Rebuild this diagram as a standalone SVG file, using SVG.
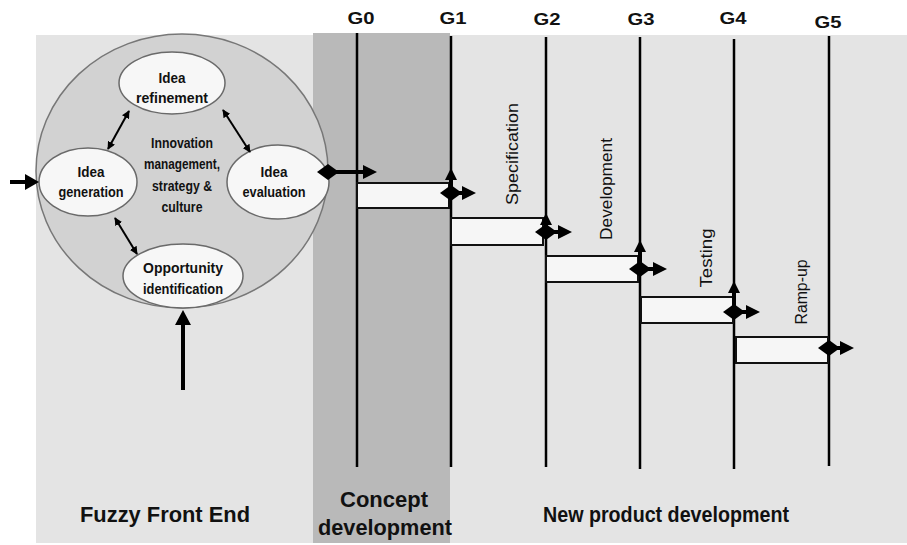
<svg xmlns="http://www.w3.org/2000/svg" width="907" height="545" viewBox="0 0 907 545">
  <style>
    .lbl { font-family: "Liberation Sans", Arial, sans-serif; fill: #111; }
    .b { font-weight: bold; }
    .gate { stroke: #000; stroke-width: 2.5; }
    .bar { fill: #f6f6f6; stroke: #111; stroke-width: 2; }
    .oval { fill: #f7f7f7; stroke: #6a6a6a; stroke-width: 1.5; }
    .thin { stroke: #000; stroke-width: 2; fill: none; marker-start: url(#hs); marker-end: url(#he); }
    .thick { stroke: #000; stroke-width: 4; fill: none; }
    .head { fill: #000; }
  </style>
  <defs>
    <marker id="he" viewBox="0 0 10 10" refX="9" refY="5" markerWidth="4" markerHeight="4" orient="auto">
      <path d="M0,0 L10,5 L0,10 Z" fill="#000"/>
    </marker>
    <marker id="hs" viewBox="0 0 10 10" refX="1" refY="5" markerWidth="4" markerHeight="4" orient="auto">
      <path d="M10,0 L0,5 L10,10 Z" fill="#000"/>
    </marker>
    <path id="diamond" d="M-11,0 L0,-8 L11,0 L0,8 Z" fill="#000"/>
  </defs>

  <rect width="907" height="545" fill="#fff"/>
  <!-- phase backgrounds -->
  <rect x="36" y="35" width="871" height="508" fill="#e4e4e4"/>
  <rect x="313" y="33" width="137" height="510" fill="#b9b9b9"/>

  <!-- fuzzy front end cycle -->
  <g id="frontend-circle">
    <ellipse cx="182" cy="171" rx="146" ry="137" fill="#d2d2d2" stroke="#777" stroke-width="1.5"/>
    <text class="lbl b" font-size="15" text-anchor="middle" x="182" y="148" textLength="62" lengthAdjust="spacingAndGlyphs">Innovation</text>
    <text class="lbl b" font-size="15" text-anchor="middle" x="182" y="169" textLength="76" lengthAdjust="spacingAndGlyphs">management,</text>
    <text class="lbl b" font-size="15" text-anchor="middle" x="182" y="191" textLength="60" lengthAdjust="spacingAndGlyphs">strategy &amp;</text>
    <text class="lbl b" font-size="15" text-anchor="middle" x="182" y="212" textLength="41" lengthAdjust="spacingAndGlyphs">culture</text>
  </g>

  <g id="idea-refinement">
    <ellipse class="oval" cx="172" cy="83" rx="53" ry="31"/>
    <text class="lbl b" font-size="15" text-anchor="middle" x="172" y="83" textLength="27" lengthAdjust="spacingAndGlyphs">Idea</text>
    <text class="lbl b" font-size="15" text-anchor="middle" x="172" y="103" textLength="72" lengthAdjust="spacingAndGlyphs">refinement</text>
  </g>
  <g id="idea-generation">
    <ellipse class="oval" cx="88" cy="182" rx="49" ry="34"/>
    <text class="lbl b" font-size="15" text-anchor="middle" x="91" y="177" textLength="27" lengthAdjust="spacingAndGlyphs">Idea</text>
    <text class="lbl b" font-size="15" text-anchor="middle" x="91" y="197" textLength="65" lengthAdjust="spacingAndGlyphs">generation</text>
  </g>
  <g id="idea-evaluation">
    <ellipse class="oval" cx="278" cy="182" rx="51" ry="37"/>
    <text class="lbl b" font-size="15" text-anchor="middle" x="274" y="177" textLength="27" lengthAdjust="spacingAndGlyphs">Idea</text>
    <text class="lbl b" font-size="15" text-anchor="middle" x="274" y="197" textLength="63" lengthAdjust="spacingAndGlyphs">evaluation</text>
  </g>
  <g id="opportunity-identification">
    <ellipse class="oval" cx="183" cy="276" rx="60" ry="32"/>
    <text class="lbl b" font-size="15" text-anchor="middle" x="183" y="273" textLength="80" lengthAdjust="spacingAndGlyphs">Opportunity</text>
    <text class="lbl b" font-size="15" text-anchor="middle" x="183" y="294" textLength="80" lengthAdjust="spacingAndGlyphs">identification</text>
  </g>

  <!-- gates -->
  <g id="gates">
    <line class="gate" x1="357" y1="33" x2="357" y2="467"/>
    <line class="gate" x1="451" y1="36" x2="451" y2="467"/>
    <line class="gate" x1="546" y1="37" x2="546" y2="467"/>
    <line class="gate" x1="640" y1="37" x2="640" y2="469"/>
    <line class="gate" x1="734" y1="39" x2="734" y2="469"/>
    <line class="gate" x1="829" y1="36" x2="829" y2="466"/>
    <text class="lbl b" font-size="17" text-anchor="middle" x="361" y="24" textLength="27" lengthAdjust="spacingAndGlyphs">G0</text>
    <text class="lbl b" font-size="17" text-anchor="middle" x="453" y="24" textLength="27" lengthAdjust="spacingAndGlyphs">G1</text>
    <text class="lbl b" font-size="17" text-anchor="middle" x="547" y="25" textLength="27" lengthAdjust="spacingAndGlyphs">G2</text>
    <text class="lbl b" font-size="17" text-anchor="middle" x="641" y="25" textLength="27" lengthAdjust="spacingAndGlyphs">G3</text>
    <text class="lbl b" font-size="17" text-anchor="middle" x="733" y="24" textLength="27" lengthAdjust="spacingAndGlyphs">G4</text>
    <text class="lbl b" font-size="17" text-anchor="middle" x="828" y="28" textLength="27" lengthAdjust="spacingAndGlyphs">G5</text>
  </g>

  <!-- stage bars -->
  <g id="stage-concept"><rect class="bar" x="357" y="183" width="92" height="25"/></g>
  <g id="stage-specification">
    <rect class="bar" x="451" y="218" width="92" height="27"/>
    <text class="lbl" font-size="17" text-anchor="middle" transform="translate(518,154) rotate(-90)" textLength="102" lengthAdjust="spacingAndGlyphs">Specification</text>
  </g>
  <g id="stage-development">
    <rect class="bar" x="546" y="256" width="92" height="26"/>
    <text class="lbl" font-size="17" text-anchor="middle" transform="translate(612,189) rotate(-90)" textLength="102" lengthAdjust="spacingAndGlyphs">Development</text>
  </g>
  <g id="stage-testing">
    <rect class="bar" x="641" y="297" width="92" height="26"/>
    <text class="lbl" font-size="17" text-anchor="middle" transform="translate(712,258) rotate(-90)" textLength="59" lengthAdjust="spacingAndGlyphs">Testing</text>
  </g>
  <g id="stage-rampup">
    <rect class="bar" x="736" y="337" width="92" height="26"/>
    <text class="lbl" font-size="17" text-anchor="middle" transform="translate(807,292) rotate(-90)" textLength="65" lengthAdjust="spacingAndGlyphs">Ramp-up</text>
  </g>

  <!-- connectors -->
  <g id="connectors">
    <!-- cycle links -->
    <line class="thin" x1="108" y1="149" x2="129" y2="111"/>
    <line class="thin" x1="223" y1="110" x2="250" y2="152"/>
    <line class="thin" x1="115" y1="218" x2="137" y2="254"/>

    <!-- inputs -->
    <line class="thick" x1="10" y1="182" x2="28" y2="182" stroke-width="6"/>
    <path class="head" d="M25,174 L39,182 L25,190 Z"/>
    <line class="thick" x1="183" y1="390" x2="183" y2="322" stroke-width="6"/>
    <path class="head" d="M175,325 L183,310 L191,325 Z"/>

    <!-- front end hand-off to G0 -->
    <use href="#diamond" x="328" y="172"/>
    <line class="thick" x1="328" y1="172" x2="366" y2="172"/>
    <path class="head" d="M363,165 L377,172 L363,179 Z"/>

    <!-- gate G1 -->
    <use href="#diamond" x="451" y="193"/>
    <line class="thick" x1="451" y1="193" x2="451" y2="178"/>
    <path class="head" d="M445,180 L451,168 L457,180 Z"/>
    <line class="thick" x1="451" y1="193" x2="464" y2="193"/>
    <path class="head" d="M462,186 L476,193 L462,200 Z"/>

    <!-- gate G2 -->
    <use href="#diamond" x="546" y="232"/>
    <line class="thick" x1="546" y1="232" x2="546" y2="222"/>
    <path class="head" d="M540,225 L546,213 L552,225 Z"/>
    <line class="thick" x1="546" y1="232" x2="560" y2="232"/>
    <path class="head" d="M558,225 L572,232 L558,239 Z"/>

    <!-- gate G3 -->
    <use href="#diamond" x="640" y="269"/>
    <line class="thick" x1="640" y1="269" x2="640" y2="250"/>
    <path class="head" d="M634,252 L640,240 L646,252 Z"/>
    <line class="thick" x1="640" y1="269" x2="655" y2="269"/>
    <path class="head" d="M653,262 L667,269 L653,276 Z"/>

    <!-- gate G4 -->
    <use href="#diamond" x="734" y="312"/>
    <line class="thick" x1="734" y1="312" x2="734" y2="291"/>
    <path class="head" d="M728,293 L734,281 L740,293 Z"/>
    <line class="thick" x1="734" y1="312" x2="748" y2="312"/>
    <path class="head" d="M746,305 L760,312 L746,319 Z"/>

    <!-- gate G5 -->
    <use href="#diamond" x="829" y="348"/>
    <line class="thick" x1="829" y1="348" x2="842" y2="348"/>
    <path class="head" d="M840,341 L854,348 L840,355 Z"/>
  </g>

  <!-- phase captions -->
  <g id="phase-labels">
    <text class="lbl b" font-size="22" text-anchor="middle" x="165" y="522" textLength="170" lengthAdjust="spacingAndGlyphs">Fuzzy Front End</text>
    <text class="lbl b" font-size="22" text-anchor="middle" x="384" y="507" textLength="88" lengthAdjust="spacingAndGlyphs">Concept</text>
    <text class="lbl b" font-size="22" text-anchor="middle" x="385" y="535" textLength="134" lengthAdjust="spacingAndGlyphs">development</text>
    <text class="lbl b" font-size="22" text-anchor="middle" x="666" y="522" textLength="246" lengthAdjust="spacingAndGlyphs">New product development</text>
  </g>
</svg>
